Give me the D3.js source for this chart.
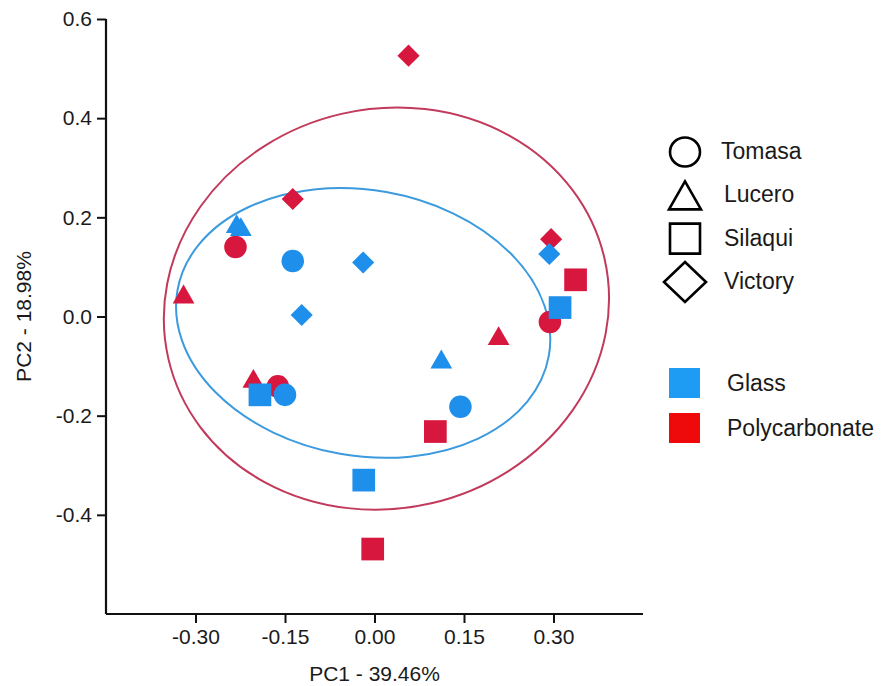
<!DOCTYPE html>
<html>
<head>
<meta charset="utf-8">
<script src="https://cdn.jsdelivr.net/npm/d3@7"></script>
<style>
  body { margin: 0; background: #fff; }
  text { font-family: "Liberation Sans", Arial, sans-serif; fill: #1a1a1a; }
</style>
</head>
<body>
<div id="chart"></div>
<script>
// varieties / materials
var varieties = ['Tomasa', 'Lucero', 'Silaqui', 'Victory'];
var materials = ['Glass', 'Polycarbonate'];

// glass points (PC1, PC2)
var glassVariety = ['Tomasa', 'Tomasa', 'Tomasa', 'Lucero', 'Lucero', 'Lucero', 'Silaqui', 'Silaqui', 'Silaqui', 'Victory', 'Victory', 'Victory'];
var glassPC1 = [-0.137, -0.150, 0.144, -0.231, -0.224, 0.112, -0.192, 0.311, -0.018, -0.019, -0.122, 0.293];
var glassPC2 = [0.112, -0.158, -0.182, 0.181, 0.175, -0.092, -0.158, 0.018, -0.330, 0.109, 0.003, 0.126];

// polycarbonate points (PC1, PC2)
var polyVariety = ['Tomasa', 'Tomasa', 'Tomasa', 'Lucero', 'Lucero', 'Lucero', 'Silaqui', 'Silaqui', 'Silaqui', 'Victory', 'Victory', 'Victory'];
var polyPC1 = [-0.233, -0.162, 0.294, -0.320, -0.203, 0.208, 0.337, 0.102, -0.003, -0.137, 0.057, 0.296];
var polyPC2 = [0.140, -0.141, -0.011, 0.039, -0.131, -0.045, 0.074, -0.232, -0.469, 0.237, 0.526, 0.156];

// confidence ellipses: centre, semi axes (data units), tilt (deg)
var ellipseMaterial = ['Polycarbonate', 'Glass'];
var ellipseCX = [0.020, -0.019];
var ellipseCY = [0.016, -0.013];
var ellipseRX = [0.375, 0.316];
var ellipseRY = [0.403, 0.268];
var ellipseTilt = [-13, 10];

var xTicks = [-0.30, -0.15, 0.00, 0.15, 0.30];
var yTicks = [-0.4, -0.2, 0.0, 0.2, 0.4, 0.6];

var W = 894, H = 686;
var margin = {top: 19, left: 106, bottom: 72, right: 251};

var pointColor = {Glass: '#1f8fec', Polycarbonate: '#d8173e'};
var swatchColor = {Glass: '#1e9cf4', Polycarbonate: '#ee0a0a'};
var ellipseColor = {Glass: '#3c9ade', Polycarbonate: '#c13a5c'};

var svg = d3.select('#chart').append('svg')
    .attr('width', W).attr('height', H);

var x = d3.scaleLinear().domain([-0.45, 0.45]).range([margin.left, W - margin.right]);
var y = d3.scaleLinear().domain([-0.6, 0.6]).range([H - margin.bottom, margin.top]);

// axes
var xAxis = d3.axisBottom(x).tickValues(xTicks).tickSize(9).tickPadding(6)
    .tickFormat(d3.format('.2f'));
var yAxis = d3.axisLeft(y).tickValues(yTicks).tickSize(9).tickPadding(5)
    .tickFormat(d3.format('.1f'));

var gx = svg.append('g').attr('transform', 'translate(0,' + y.range()[0] + ')').call(xAxis);
var gy = svg.append('g').attr('transform', 'translate(' + x.range()[0] + ',0)').call(yAxis);

[gx, gy].forEach(function(g){
    g.select('.domain').attr('stroke', '#111').attr('stroke-width', 2.2)
        .attr('d', g === gx ? 'M' + x.range()[0] + ',0H' + x.range()[1]
                            : 'M0,' + y.range()[0] + 'V' + y.range()[1]);
    g.selectAll('.tick line').attr('stroke', '#111').attr('stroke-width', 2);
    g.selectAll('.tick text').attr('font-size', 21).attr('fill', '#1a1a1a')
        .attr('font-family', '"Liberation Sans", Arial, sans-serif');
});
gx.selectAll('.tick text').text(function(d){ return d3.format('.2f')(d).replace('−', '-'); });
gy.selectAll('.tick text').text(function(d){ return d3.format('.1f')(d).replace('−', '-'); });

svg.append('text')
    .attr('x', x(0)).attr('y', 681)
    .attr('text-anchor', 'middle').attr('font-size', 21)
    .text('PC1 - 39.46%');

svg.append('text')
    .attr('transform', 'translate(31,' + y(0) + ') rotate(-90)')
    .attr('text-anchor', 'middle').attr('font-size', 21)
    .text('PC2 - 18.98%');

// ellipses
ellipseMaterial.forEach(function(m, i){
    var cx = x(ellipseCX[i]), cy = y(ellipseCY[i]);
    svg.append('ellipse')
        .attr('transform', 'translate(' + [cx, cy] + ') rotate(' + ellipseTilt[i] + ')')
        .attr('rx', x(ellipseCX[i] + ellipseRX[i]) - cx)
        .attr('ry', cy - y(ellipseCY[i] + ellipseRY[i]))
        .attr('fill', 'none')
        .attr('stroke', ellipseColor[m])
        .attr('stroke-width', 2);
});

// markers
function markerPath(v){
    if (v === 'Tomasa') return d3.symbol().type(d3.symbolCircle).size(400)();
    if (v === 'Lucero') return d3.symbol().type(d3.symbolTriangle).size(205)();
    if (v === 'Silaqui') return d3.symbol().type(d3.symbolSquare).size(515)();
    return d3.symbol().type(d3.symbolSquare).size(245)();
}

function drawSeries(material, pc1, pc2, variety){
    var data = pc1.map(function(v, i){ return {x: v, y: pc2[i], v: variety[i]}; });
    svg.append('g').selectAll('path').data(data).enter().append('path')
        .attr('d', function(d){ return markerPath(d.v); })
        .attr('transform', function(d){
            return 'translate(' + [x(d.x), y(d.y)] + ')' + (d.v === 'Victory' ? ' rotate(45)' : '');
        })
        .attr('fill', pointColor[material]);
}
drawSeries('Polycarbonate', polyPC1, polyPC2, polyVariety);
drawSeries('Glass', glassPC1, glassPC2, glassVariety);

// legend: shapes
var lg = svg.append('g');
var shapeY = d3.scalePoint().domain(varieties).range([152, 282]);
var legendShapes = {
    Tomasa: 'M-15,0A15,14.5 0 1,0 15,0A15,14.5 0 1,0 -15,0Z',
    Lucero: 'M0,-14L16,14L-16,14Z',
    Silaqui: 'M-15,-15H15V15H-15Z',
    Victory: 'M0,-20L21,0L0,20L-21,0Z'
};
varieties.forEach(function(v){
    lg.append('path')
        .attr('d', legendShapes[v])
        .attr('transform', 'translate(' + [685, shapeY(v)] + ')')
        .attr('fill', 'none').attr('stroke', '#000').attr('stroke-width', 2.6)
        .attr('stroke-linejoin', 'miter');
    lg.append('text')
        .attr('x', v === 'Tomasa' ? 721 : 724).attr('y', shapeY(v) + 7)
        .attr('font-size', 23)
        .text(v);
});

// legend: materials
var matY = d3.scalePoint().domain(materials).range([383, 428]);
materials.forEach(function(m){
    lg.append('rect')
        .attr('x', 669).attr('y', matY(m) - 15)
        .attr('width', 31).attr('height', 30)
        .attr('fill', swatchColor[m]);
    lg.append('text')
        .attr('x', 727).attr('y', matY(m) + 8)
        .attr('font-size', 23)
        .text(m);
});
</script>
</body>
</html>
